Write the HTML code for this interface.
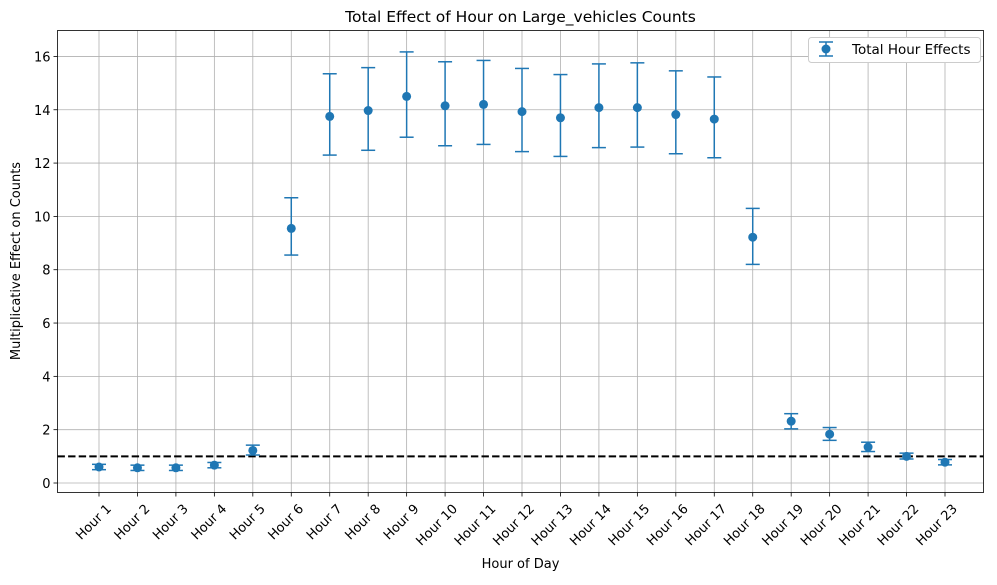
<!DOCTYPE html>
<html><head><meta charset="utf-8"><style>
body{margin:0;background:#fff;font-family:"Liberation Sans","DejaVu Sans",sans-serif}
svg text{font-family:"DejaVu Sans","Liberation Sans",sans-serif;font-size:13px;fill:#000}
</style></head><body>
<svg id="c" width="997" height="580"></svg>
<script>
const categories=["Hour 1","Hour 2","Hour 3","Hour 4","Hour 5","Hour 6","Hour 7","Hour 8","Hour 9","Hour 10","Hour 11","Hour 12","Hour 13","Hour 14","Hour 15","Hour 16","Hour 17","Hour 18","Hour 19","Hour 20","Hour 21","Hour 22","Hour 23"];
const values=[0.6,0.57,0.57,0.67,1.22,9.55,13.75,13.97,14.5,14.15,14.2,13.93,13.7,14.08,14.08,13.82,13.65,9.22,2.32,1.83,1.35,1.0,0.78];
const lower=[0.5,0.47,0.47,0.57,1.05,8.55,12.3,12.48,12.97,12.65,12.7,12.43,12.25,12.58,12.6,12.35,12.2,8.2,2.03,1.6,1.18,0.9,0.68];
const upper=[0.7,0.67,0.67,0.77,1.42,10.7,15.35,15.58,16.17,15.8,15.85,15.55,15.32,15.72,15.76,15.46,15.23,10.3,2.6,2.08,1.53,1.12,0.88];
const yTicks=[0,2,4,6,8,10,12,14,16];
const refLine=1;
const NS="http://www.w3.org/2000/svg",svg=document.getElementById('c');
const L=57.5,R=983.5,T=30.5,B=492.5;
const y=v=>483-v*26.66;
const x=i=>99+i*(945-99)/(categories.length-1);
function el(t,a,p){const e=document.createElementNS(NS,t);for(const k in a)e.setAttribute(k,a[k]);(p||svg).appendChild(e);return e;}
const grid=el('g',{});
categories.forEach((c,i)=>{el('line',{x1:x(i),x2:x(i),y1:T,y2:B,stroke:'#b0b0b0','stroke-width':0.8},grid);
 el('line',{x1:x(i),x2:x(i),y1:B,y2:B+4,stroke:'#000','stroke-width':0.8});
 const lx=x(i)+13,ly=B+17;
 const t=el('text',{x:lx,y:ly,'text-anchor':'end',transform:`rotate(-45 ${lx} ${ly})`});t.textContent=c;
 });
yTicks.forEach(v=>{el('line',{x1:L,x2:R,y1:y(v),y2:y(v),stroke:'#b0b0b0','stroke-width':0.8},grid);
 el('line',{x1:L-4,x2:L,y1:y(v),y2:y(v),stroke:'#000','stroke-width':0.8});
 const t=el('text',{x:L-7,y:y(v)+5,'text-anchor':'end'});t.textContent=v;
 });
const rl=el('line',{x1:L,x2:R,y1:y(refLine),y2:y(refLine),stroke:'#000','stroke-width':2,'stroke-dasharray':'7.4,3.2'});

categories.forEach((c,i)=>{const g=el('g',{});
 
 el('line',{x1:x(i),x2:x(i),y1:y(lower[i]),y2:y(upper[i]),stroke:'#1f77b4','stroke-width':1.5},g);
 [lower[i],upper[i]].forEach(v=>el('line',{x1:x(i)-7,x2:x(i)+7,y1:y(v),y2:y(v),stroke:'#1f77b4','stroke-width':1.5},g));
 el('circle',{cx:x(i),cy:y(values[i]),r:4.5,fill:'#1f77b4'},g);});
const fr=el('rect',{x:L,y:T,width:R-L,height:B-T,fill:'none',stroke:'#000','stroke-width':0.8});

let t=el('text',{x:(L+R)/2,y:22,'text-anchor':'middle'});t.textContent='Total Effect of Hour on Large_vehicles Counts';t.setAttribute('style','font-size:15.5px');

t=el('text',{x:(L+R)/2,y:568,'text-anchor':'middle'});t.textContent='Hour of Day';

t=el('text',{x:20,y:261,'text-anchor':'middle',transform:'rotate(-90 20 261)'});t.textContent='Multiplicative Effect on Counts';

const lg=el('g',{});
el('rect',{x:808.5,y:37.5,width:172,height:25,rx:3,fill:'#fff',stroke:'#ccc'},lg);
el('line',{x1:826,x2:826,y1:42,y2:56,stroke:'#1f77b4','stroke-width':1.5},lg);
el('line',{x1:819,x2:833,y1:42,y2:42,stroke:'#1f77b4','stroke-width':1.5},lg);
el('line',{x1:819,x2:833,y1:56,y2:56,stroke:'#1f77b4','stroke-width':1.5},lg);
el('circle',{cx:826,cy:49,r:4.5,fill:'#1f77b4'},lg);
t=el('text',{x:852,y:54},lg);t.textContent='Total Hour Effects';t.setAttribute('style','font-size:13.5px');

</script></body></html>
